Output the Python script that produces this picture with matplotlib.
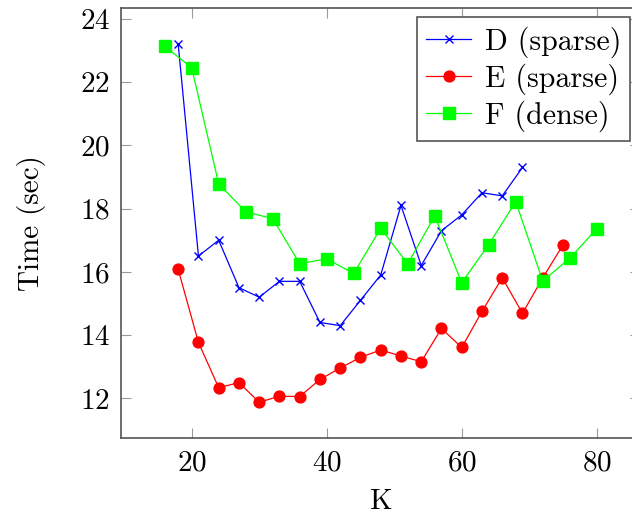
import numpy as np
import matplotlib
matplotlib.use("Agg")
import matplotlib.pyplot as plt

# data
k_d = [18, 21, 24, 27, 30, 33, 36, 39, 42, 45, 48, 51, 54, 57, 60, 63, 66, 69]
t_d = [23.2, 16.5, 17.0, 15.5, 15.2, 15.7, 15.7, 14.4, 14.3, 15.1, 15.9, 18.1,
       16.2, 17.3, 17.8, 18.5, 18.4, 19.3]

k_e = [18, 21, 24, 27, 30, 33, 36, 39, 42, 45, 48, 51, 54, 57, 60, 63, 66, 69, 72, 75]
t_e = [16.08, 13.77, 12.34, 12.5, 11.88, 12.07, 12.06, 12.6, 12.96, 13.3, 13.53,
       13.34, 13.16, 14.21, 13.61, 14.75, 15.81, 14.69, 15.81, 16.85]

k_f = [16, 20, 24, 28, 32, 36, 40, 44, 48, 52, 56, 60, 64, 68, 72, 76, 80]
t_f = [23.13, 22.45, 18.78, 17.9, 17.68, 16.26, 16.41, 15.95, 17.38, 16.25, 17.77,
       15.66, 16.86, 18.22, 15.71, 16.43, 17.36]

labels = ["D (sparse)", "E (sparse)", "F (dense)"]

plt.rcParams['font.family'] = ['cmr10', 'DejaVu Serif']
plt.rcParams['axes.formatter.use_mathtext'] = True
plt.rcParams['font.size'] = 21

fig = plt.figure(figsize=(6.32, 5.14), dpi=100)
ax = fig.add_axes([0.1922, 0.1473, 0.8204, 0.8366])

ax.plot(k_d, t_d, color='#0000ff', lw=0.9, marker='x', ms=5.3, mew=1.0, label=labels[0])
ax.plot(k_e, t_e, color='#ff0000', lw=0.9, marker='o', ms=7.8, label=labels[1])
ax.plot(k_f, t_f, color='#00ff00', lw=0.9, marker='s', ms=8, label=labels[2])

ax.set_xlim(9.6, 86.4)
ax.set_ylim(10.74, 24.33)
ax.set_xticks([20, 40, 60, 80])
ax.set_yticks([12, 14, 16, 18, 20, 22, 24])

for s in ax.spines.values():
    s.set_color('#555555')
    s.set_linewidth(1.2)
ax.tick_params(direction='in', length=7, width=0.8, color='#999999',
               top=True, right=True, pad=8.3, labelsize=21)

ax.set_xlabel('K', labelpad=9)
ax.set_ylabel('Time (sec)', labelpad=24)

leg = ax.legend(loc='upper right', bbox_to_anchor=(630 / 632, 1 - 17 / 514),
                bbox_transform=fig.transFigure, borderaxespad=0,
                fancybox=False, framealpha=1, edgecolor='#555555',
                handlelength=1.5, handletextpad=0.45, labelspacing=0.19,
                borderpad=0.3, fontsize=21.6)
leg.get_frame().set_linewidth(1.2)

fig.savefig('out.png', dpi=100)
